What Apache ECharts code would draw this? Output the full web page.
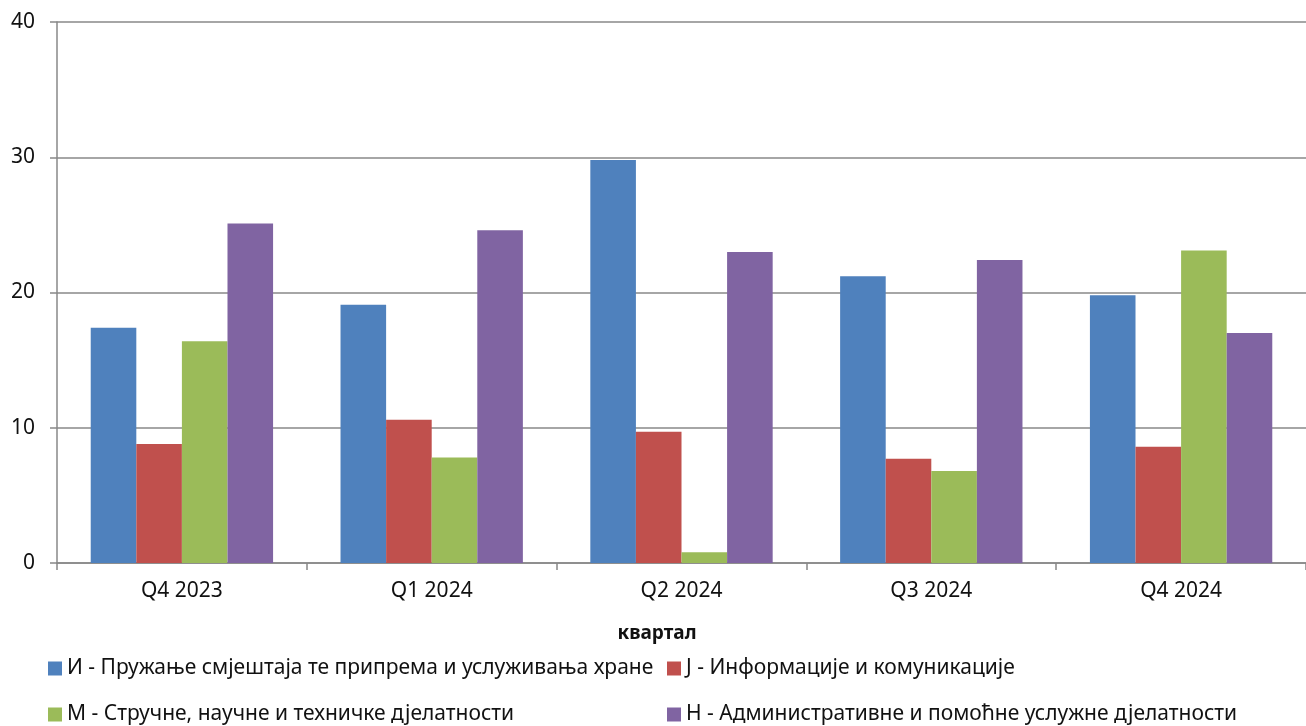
<!DOCTYPE html>
<html>
<head>
<meta charset="utf-8">
<script src="https://cdn.jsdelivr.net/npm/echarts@6/dist/echarts.min.js"></script>
<style>
  html, body { margin: 0; padding: 0; background: #fff; }
  #chart { width: 1306px; height: 726px; }
</style>
</head>
<body>
<div id="chart"></div>
<script>
  // quarters on the x axis
  var quarters = ['Q4 2023', 'Q1 2024', 'Q2 2024', 'Q3 2024', 'Q4 2024'];
  var yTicks = [0, 10, 20, 30, 40];

  var seriesNames = [
    'И - Пружање смјештаја те припрема и услуживања хране',
    'Ј - Информације и комуникације',
    'М - Стручне, научне и техничке дјелатности',
    'Н - Административне и помоћне услужне дјелатности'
  ];
  var valuesI = [17.4, 19.1, 29.8, 21.2, 19.8];
  var valuesJ = [8.8, 10.6, 9.7, 7.7, 8.6];
  var valuesM = [16.4, 7.8, 0.8, 6.8, 23.1];
  var valuesH = [25.1, 24.6, 23.0, 22.4, 17.0];
  var colors = ['#4F81BD', '#C0504D', '#9BBB59', '#8064A2'];

  var font = 'Noto Sans';
  var chart = echarts.init(document.getElementById('chart'));

  function bar(i, data) {
    return {
      name: seriesNames[i],
      type: 'bar',
      data: data,
      barGap: '0%',
      barCategoryGap: '27%',
      itemStyle: { color: colors[i] }
    };
  }

  // one legend per item so they line up in two columns
  function legendItem(i, left, top) {
    return {
      data: [seriesNames[i]],
      left: left,
      top: top,
      padding: 0,
      itemWidth: 14,
      itemHeight: 14,
      itemGap: 4,
      icon: 'rect',
      textStyle: { fontSize: 21, color: '#111', fontFamily: font }
    };
  }

  var option = {
    animation: false,
    textStyle: { fontFamily: font },
    grid: { left: 57, top: 22, width: 1260, height: 541, containLabel: false },
    xAxis: {
      type: 'category',
      data: quarters,
      axisLine: { lineStyle: { color: '#888', width: 1.5 } },
      axisTick: { show: true, length: 7, lineStyle: { color: '#888', width: 1.5 } },
      axisLabel: { color: '#111', fontSize: 21, margin: 18, fontFamily: font }
    },
    yAxis: {
      type: 'value',
      min: yTicks[0],
      max: yTicks[yTicks.length - 1],
      interval: 10,
      axisLine: { show: true, lineStyle: { color: '#888', width: 1.5 } },
      axisTick: { show: true, length: 7, lineStyle: { color: '#888', width: 1.5 } },
      splitLine: { lineStyle: { color: '#888', width: 1.5 } },
      axisLabel: { color: '#111', fontSize: 21, margin: 22, fontFamily: font }
    },
    title: {
      text: 'квартал',
      left: 657,
      top: 624,
      textAlign: 'center',
      padding: 0,
      textStyle: { fontSize: 19, fontWeight: 'bold', color: '#111', fontFamily: font }
    },
    legend: [
      legendItem(0, 48, 658),
      legendItem(1, 667, 658),
      legendItem(2, 48, 704),
      legendItem(3, 667, 704)
    ],
    series: [
      bar(0, valuesI),
      bar(1, valuesJ),
      bar(2, valuesM),
      bar(3, valuesH)
    ]
  };

  chart.setOption(option);
</script>
</body>
</html>
